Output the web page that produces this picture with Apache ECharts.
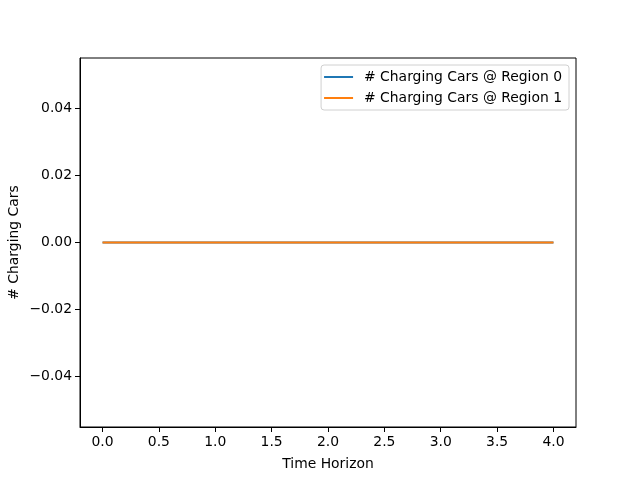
<!DOCTYPE html>
<html>
<head>
<meta charset="utf-8">
<script src="https://cdn.jsdelivr.net/npm/echarts@6/dist/echarts.min.js"></script>
<style>
  html, body { margin: 0; padding: 0; background: #fff; }
  #chart { width: 640px; height: 480px; }
</style>
</head>
<body>
<div id="chart"></div>
<script>
// time steps and counts
const timeSteps = [0, 1, 2, 3, 4];
const region0 = [0, 0, 0, 0, 0];
const region1 = [0, 0, 0, 0, 0];
const seriesNames = ['# Charging Cars @ Region 0', '# Charging Cars @ Region 1'];
const xTicks = [0, 0.5, 1, 1.5, 2, 2.5, 3, 3.5, 4];
const yTicks = [-0.04, -0.02, 0, 0.02, 0.04];

const font = 'DejaVu Sans';
const chart = echarts.init(document.getElementById('chart'), null, { renderer: 'canvas' });

const pairs = (xs, ys) => xs.map((x, i) => [x, ys[i]]);

const option = {
  animation: false,
  backgroundColor: '#fff',
  textStyle: { fontFamily: font },
  grid: {
    left: 80, right: 64, top: 58, bottom: 53,
    outerBoundsMode: 'none',
    containLabel: false,
    show: true, borderColor: '#000', borderWidth: 1, backgroundColor: 'transparent'
  },
  legend: {
    orient: 'vertical',
    right: 71,
    top: 65,
    padding: [5, 7, 5, 3],
    itemGap: 7,
    itemWidth: 29,
    itemHeight: 2,
    icon: 'rect',
    borderColor: '#d0d0d0',
    borderWidth: 1,
    borderRadius: 3,
    backgroundColor: 'rgba(255,255,255,0.8)',
    textStyle: { fontFamily: font, fontSize: 13.9, color: '#000', padding: [0, 0, 0, 6] },
    data: seriesNames
  },
  xAxis: {
    type: 'value',
    min: -0.2,
    max: 4.2,
    name: 'Time Horizon',
    nameLocation: 'middle',
    nameGap: 30,
    nameMoveOverlap: false,
    nameTextStyle: { fontFamily: font, fontSize: 13.9, color: '#000' },
    axisLine: { show: true, onZero: false, lineStyle: { color: '#000', width: 1 } },
    axisTick: { show: true, length: 5, lineStyle: { color: '#000' }, customValues: xTicks },
    axisLabel: {
      fontFamily: font, fontSize: 13.9, color: '#000', margin: 8,
      customValues: xTicks,
      formatter: v => v.toFixed(1)
    },
    splitLine: { show: false }
  },
  yAxis: {
    type: 'value',
    min: -0.055,
    max: 0.055,
    name: '# Charging Cars',
    nameLocation: 'middle',
    nameGap: 59,
    nameMoveOverlap: false,
    nameTextStyle: { fontFamily: font, fontSize: 13.9, color: '#000' },
    axisLine: { show: true, onZero: false, lineStyle: { color: '#000', width: 1 } },
    axisTick: { show: true, length: 5, lineStyle: { color: '#000' }, customValues: yTicks },
    axisLabel: {
      fontFamily: font, fontSize: 13.9, color: '#000', margin: 8,
      customValues: yTicks,
      formatter: v => (v < 0 ? '\u2212' : '') + Math.abs(v).toFixed(2)
    },
    splitLine: { show: false }
  },
  series: [
    {
      name: seriesNames[0],
      type: 'line',
      data: pairs(timeSteps, region0),
      showSymbol: false,
      color: '#1f77b4',
      lineStyle: { width: 2, color: '#1f77b4' }
    },
    {
      name: seriesNames[1],
      type: 'line',
      data: pairs(timeSteps, region1),
      showSymbol: false,
      color: '#ff7f0e',
      lineStyle: { width: 2, color: '#ff7f0e' }
    }
  ]
};

chart.setOption(option);
</script>
</body>
</html>
